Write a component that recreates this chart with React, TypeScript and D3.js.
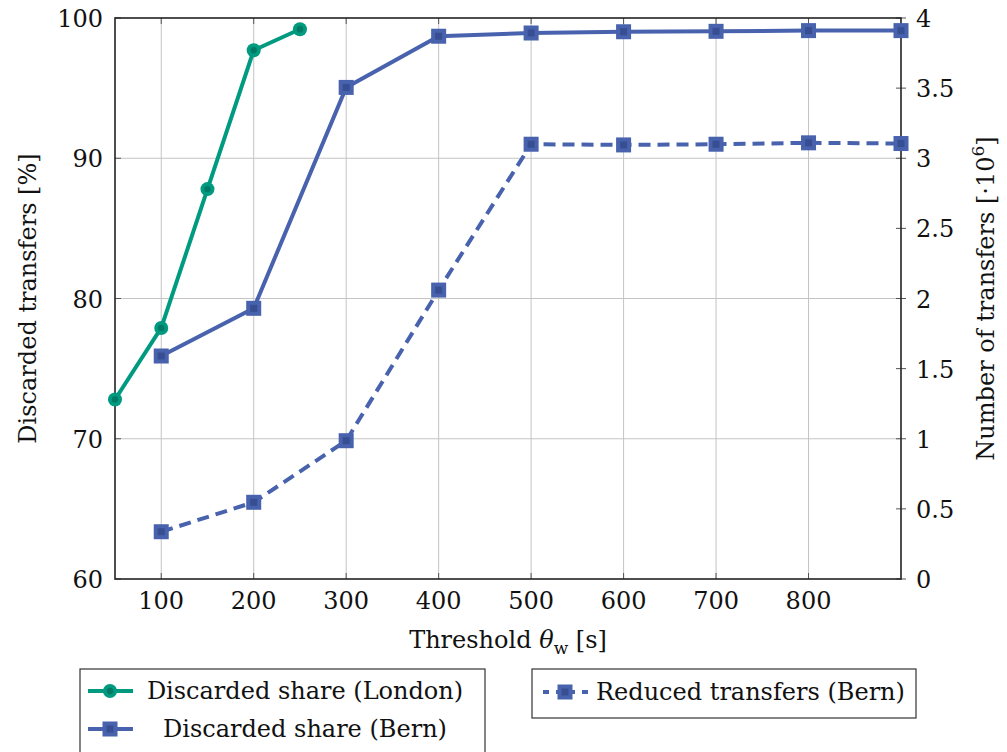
import React from "react";
import * as d3 from "d3";

// Thresholds (s) and measured series
const londonThreshold = [50, 100, 150, 200, 250];
const londonShare = [72.8, 77.9, 87.8, 97.7, 99.2];

const bernThreshold = [100, 200, 300, 400, 500, 600, 700, 800, 900];
const bernShare = [75.9, 79.3, 95.05, 98.7, 98.93, 99.02, 99.05, 99.1, 99.1];
const bernReduced = [0.337, 0.547, 0.986, 2.06, 3.1, 3.095, 3.1, 3.11, 3.105];

const xTicks = [100, 200, 300, 400, 500, 600, 700, 800];
const leftTicks = [60, 70, 80, 90, 100];
const rightTicks = [0, 0.5, 1, 1.5, 2, 2.5, 3, 3.5, 4];

const GREEN = "#009a80";
const GREEN_DARK = "#007a64";
const BLUE = "#4862ad";
const BLUE_DARK = "#374f92";
const FONT = "DejaVu Serif";

const W = 1007;
const H = 752;
const plot = { left: 115, right: 901, top: 18, bottom: 579 };

export default function App() {
  const x = d3.scaleLinear().domain([50, 900]).range([plot.left, plot.right]);
  const yL = d3.scaleLinear().domain([60, 100]).range([plot.bottom, plot.top]);
  const yR = d3.scaleLinear().domain([0, 4]).range([plot.bottom, plot.top]);

  const londonPts: [number, number][] = londonThreshold.map((t, i) => [x(t), yL(londonShare[i])]);
  const bernPts: [number, number][] = bernThreshold.map((t, i) => [x(t), yL(bernShare[i])]);
  const reducedPts: [number, number][] = bernThreshold.map((t, i) => [x(t), yR(bernReduced[i])]);
  const line = d3.line();

  const circle = (cx: number, cy: number, key: string) => (
    <g key={key}>
      <circle cx={cx} cy={cy} r={7} fill={GREEN} />
      <circle cx={cx} cy={cy} r={3.2} fill={GREEN_DARK} />
    </g>
  );
  const square = (cx: number, cy: number, key: string) => (
    <g key={key}>
      <rect x={cx - 7.5} y={cy - 7.5} width={15} height={15} fill={BLUE} />
      <rect x={cx - 3.5} y={cy - 3.5} width={7} height={7} fill={BLUE_DARK} />
    </g>
  );

  const fs = 24;
  const txt = { fontFamily: FONT, fontSize: fs, fill: "#111" } as React.CSSProperties;

  return (
    <svg
      width={W}
      height={H}
      style={{ position: "absolute", left: 0, top: 0, background: "#fff", fontFamily: FONT }}
    >
      {/* grid */}
      <g stroke="#c4c4c4" strokeWidth={1}>
        {xTicks.map((t) => (
          <line key={"gx" + t} x1={x(t)} x2={x(t)} y1={plot.top} y2={plot.bottom} />
        ))}
        {leftTicks.slice(1, -1).map((t) => (
          <line key={"gy" + t} x1={plot.left} x2={plot.right} y1={yL(t)} y2={yL(t)} />
        ))}
      </g>

      {/* tick marks */}
      <g stroke="#555" strokeWidth={1}>
        {xTicks.map((t) => (
          <g key={"tx" + t}>
            <line x1={x(t)} x2={x(t)} y1={plot.bottom} y2={plot.bottom - 6} />
            <line x1={x(t)} x2={x(t)} y1={plot.top} y2={plot.top + 6} />
          </g>
        ))}
        {leftTicks.map((t) => (
          <line key={"tl" + t} x1={plot.left} x2={plot.left + 6} y1={yL(t)} y2={yL(t)} />
        ))}
        {rightTicks.map((t) => (
          <line key={"tr" + t} x1={plot.right - 5} x2={plot.right + 5} y1={yR(t)} y2={yR(t)} />
        ))}
      </g>

      {/* frame */}
      <rect
        x={plot.left}
        y={plot.top}
        width={plot.right - plot.left}
        height={plot.bottom - plot.top}
        fill="none"
        stroke="#222"
        strokeWidth={1.6}
      />

      {/* series */}
      <path d={line(reducedPts) || ""} fill="none" stroke={BLUE} strokeWidth={4} strokeDasharray="12 7" />
      <path d={line(bernPts) || ""} fill="none" stroke={BLUE} strokeWidth={4} />
      <path d={line(londonPts) || ""} fill="none" stroke={GREEN} strokeWidth={4} />
      {reducedPts.map((p, i) => square(p[0], p[1], "r" + i))}
      {bernPts.map((p, i) => square(p[0], p[1], "b" + i))}
      {londonPts.map((p, i) => circle(p[0], p[1], "l" + i))}

      {/* tick labels */}
      {xTicks.map((t) => (
        <text key={"lx" + t} x={x(t)} y={plot.bottom + 30} textAnchor="middle" style={txt}>
          {t}
        </text>
      ))}
      {leftTicks.map((t) => (
        <text key={"ll" + t} x={plot.left - 12} y={yL(t) + 9} textAnchor="end" style={txt}>
          {t}
        </text>
      ))}
      {rightTicks.map((t) => (
        <text key={"lr" + t} x={plot.right + 15} y={yR(t) + 9} textAnchor="start" style={txt}>
          {t}
        </text>
      ))}

      {/* axis titles */}
      <text x={508} y={648} textAnchor="middle" style={txt}>
        Threshold <tspan fontStyle="italic">θ</tspan>
        <tspan fontSize={17} dy={6}>w</tspan>
        <tspan dy={-6}> [s]</tspan>
      </text>
      <text
        transform={`translate(36, ${(plot.top + plot.bottom) / 2}) rotate(-90)`}
        textAnchor="middle"
        style={txt}
      >
        Discarded transfers [%]
      </text>
      <text
        transform={`translate(994, ${(plot.top + plot.bottom) / 2}) rotate(-90)`}
        textAnchor="middle"
        style={txt}
      >
        Number of transfers [·10<tspan fontSize={17} dy={-10}>6</tspan>
        <tspan dy={10}>]</tspan>
      </text>

      {/* legends */}
      <rect x={80} y={669} width={405} height={100} fill="#fff" stroke="#333" strokeWidth={1.2} />
      <line x1={88} x2={133} y1={691} y2={691} stroke={GREEN} strokeWidth={4} />
      {circle(110, 691, "lg1")}
      <text x={305} y={699} textAnchor="middle" style={txt}>
        Discarded share (London)
      </text>
      <line x1={88} x2={133} y1={729} y2={729} stroke={BLUE} strokeWidth={4} />
      {square(110, 729, "lg2")}
      <text x={305} y={737} textAnchor="middle" style={txt}>
        Discarded share (Bern)
      </text>

      <rect x={532} y={669} width={384} height={49} fill="#fff" stroke="#333" strokeWidth={1.2} />
      <line x1={543} x2={588} y1={692} y2={692} stroke={BLUE} strokeWidth={4} strokeDasharray="6 7" />
      {square(565, 692, "lg3")}
      <text x={596} y={700} style={txt}>
        Reduced transfers (Bern)
      </text>
    </svg>
  );
}
